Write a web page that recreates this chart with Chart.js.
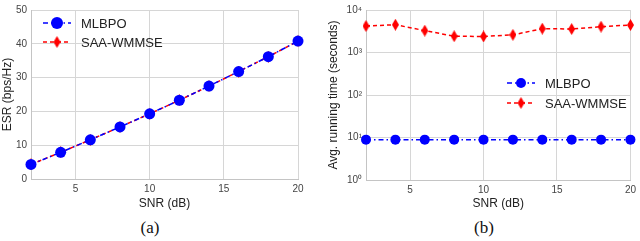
<!DOCTYPE html>
<html>
<head>
<meta charset="utf-8">
<title>ESR and running time vs SNR</title>
<script src="https://cdn.jsdelivr.net/npm/chart.js"></script>
<style>
  body { margin: 0; background: #fff; width: 640px; height: 241px; position: relative; overflow: hidden; }
  canvas { position: absolute; top: 0; }
  .cap { position: absolute; top: 218px; width: 60px; text-align: center;
         font-family: "Liberation Serif", serif; font-size: 17px; color: #111; }
</style>
</head>
<body>
<canvas id="esr" width="320" height="215" style="left:0"></canvas>
<canvas id="tiempo" width="320" height="215" style="left:320px"></canvas>
<div class="cap" style="left:120px">(a)</div>
<div class="cap" style="left:454px">(b)</div>

<script>
// datos
const snr = [2, 4, 6, 8, 10, 12, 14, 16, 18, 20];
const esrMlbpo = [4.3, 7.9, 11.6, 15.4, 19.3, 23.3, 27.5, 31.8, 36.2, 40.8];
const esrSaa = [4.3, 7.9, 11.6, 15.4, 19.3, 23.3, 27.5, 31.8, 36.2, 40.8];
const timeMlbpo = [8.9, 8.9, 8.9, 8.9, 8.9, 8.9, 8.9, 8.9, 8.9, 8.9];
const timeSaa = [4200, 4500, 3270, 2420, 2380, 2600, 3640, 3570, 4050, 4430];
const xTicks = [5, 10, 15, 20];
const esrTicks = [0, 10, 20, 30, 40, 50];
const timeTicks = [1, 10, 100, 1000, 10000];
const seriesNames = ['MLBPO', 'SAA-WMMSE'];

const FONT = '"Liberation Sans", Arial, sans-serif';
const AZUL = '#0000ff';
const ROJO = '#ff0000';

// marcador rombo delgado (tipo 'd' de matplotlib)
function rombo(w, h) {
  const c = document.createElement('canvas');
  c.width = w; c.height = h;
  const g = c.getContext('2d');
  g.fillStyle = ROJO;
  g.beginPath();
  g.moveTo(w / 2, 0);
  g.lineTo(w, h / 2);
  g.lineTo(w / 2, h);
  g.lineTo(0, h / 2);
  g.closePath();
  g.fill();
  return c;
}
const romboA = rombo(7, 12);
const romboB = rombo(7, 12);

const sup = ['\u2070', '\u00b9', '\u00b2', '\u00b3', '\u2074'];

// leyenda dibujada a mano: linea + marcador + texto
function leyenda(x0, y0, dy, radio, img) {
  return {
    id: 'leyenda',
    afterDraw(chart) {
      const ctx = chart.ctx;
      const items = [
        { color: AZUL, dash: [5, 3, 1.5, 3], name: seriesNames[0], circle: true },
        { color: ROJO, dash: [4, 3], name: seriesNames[1], circle: false }
      ];
      items.forEach((it, i) => {
        const y = y0 + i * dy;
        ctx.save();
        ctx.strokeStyle = it.color;
        ctx.lineWidth = 1.5;
        ctx.setLineDash(it.dash);
        ctx.beginPath();
        ctx.moveTo(x0, y);
        ctx.lineTo(x0 + 28, y);
        ctx.stroke();
        ctx.setLineDash([]);
        if (it.circle) {
          ctx.fillStyle = AZUL;
          ctx.beginPath();
          ctx.arc(x0 + 14, y, radio, 0, Math.PI * 2);
          ctx.fill();
        } else {
          ctx.drawImage(img, x0 + 14 - img.width / 2, y - img.height / 2);
        }
        ctx.fillStyle = '#222';
        ctx.font = '13px ' + FONT;
        ctx.textBaseline = 'middle';
        ctx.fillText(it.name, x0 + 38, y + 1);
        ctx.restore();
      });
    }
  };
}

function ejeX(alto) {
  return {
    type: 'linear',
    min: 2,
    max: 20,
    afterBuildTicks: s => { s.ticks = xTicks.map(v => ({ value: v })); },
    afterFit: s => { s.height = alto; },
    grid: { color: '#d6d6d6', drawTicks: false },
    border: { color: '#c4c4c4' },
    ticks: { font: { family: FONT, size: 10 }, color: '#444', padding: 4, maxRotation: 0 },
    title: { display: true, text: 'SNR (dB)', font: { family: FONT, size: 12 }, color: '#222', padding: { top: 2, bottom: 4 } }
  };
}

function serie(label, data, color, dash, style, radius) {
  return {
    label: label,
    data: data,
    borderColor: color,
    backgroundColor: color,
    borderWidth: 1.5,
    borderDash: dash,
    pointStyle: style,
    pointRadius: radius,
    pointBorderWidth: 0,
    tension: 0
  };
}

// (a) ESR
new Chart(document.getElementById('esr'), {
  type: 'line',
  data: {
    labels: snr,
    datasets: [
      serie(seriesNames[0], snr.map((x, i) => ({ x: x, y: esrMlbpo[i] })), AZUL, [5, 3, 1.5, 3], 'circle', 5.5),
      serie(seriesNames[1], snr.map((x, i) => ({ x: x, y: esrSaa[i] })), ROJO, [4, 3], romboA, 6)
    ]
  },
  options: {
    responsive: false,
    animation: false,
    devicePixelRatio: 1,
    clip: false,
    layout: { padding: { top: 6, right: 22, left: 0, bottom: 0 } },
    plugins: { legend: { display: false }, tooltip: { enabled: false } },
    scales: {
      x: ejeX(36),
      y: {
        min: 0,
        max: 50,
        afterBuildTicks: s => { s.ticks = esrTicks.map(v => ({ value: v })); },
        afterFit: s => { s.width = 31; },
        grid: { color: '#d6d6d6', drawTicks: false },
        border: { color: '#c4c4c4' },
        ticks: { font: { family: FONT, size: 10 }, color: '#444', padding: 4 },
        title: { display: true, text: 'ESR (bps/Hz)', font: { family: FONT, size: 12 }, color: '#222', padding: { top: 0, bottom: 0 } }
      }
    }
  },
  plugins: [leyenda(43, 23, 19, 6, romboA)]
});

// (b) tiempo de ejecucion
new Chart(document.getElementById('tiempo'), {
  type: 'line',
  data: {
    labels: snr,
    datasets: [
      serie(seriesNames[0], snr.map((x, i) => ({ x: x, y: timeMlbpo[i] })), AZUL, [5, 3, 1.5, 3], 'circle', 5),
      serie(seriesNames[1], snr.map((x, i) => ({ x: x, y: timeSaa[i] })), ROJO, [4, 3], romboB, 6)
    ]
  },
  options: {
    responsive: false,
    animation: false,
    devicePixelRatio: 1,
    clip: false,
    layout: { padding: { top: 7, right: 7, left: 0, bottom: 0 } },
    plugins: { legend: { display: false }, tooltip: { enabled: false } },
    scales: {
      x: ejeX(35),
      y: {
        type: 'logarithmic',
        min: 1,
        max: 10000,
        afterBuildTicks: s => { s.ticks = timeTicks.map(v => ({ value: v })); },
        afterFit: s => { s.width = 46; },
        grid: { color: '#d6d6d6', drawTicks: false },
        border: { color: '#c4c4c4' },
        ticks: {
          font: { family: FONT, size: 10 }, color: '#444', padding: 4,
          callback: v => '10' + sup[Math.round(Math.log10(v))]
        },
        title: { display: true, text: 'Avg. running time (seconds)', font: { family: FONT, size: 12 }, color: '#222', padding: { top: 6, bottom: 0 } }
      }
    }
  },
  plugins: [leyenda(187, 83, 20, 5, romboB)]
});
</script>
</body>
</html>
